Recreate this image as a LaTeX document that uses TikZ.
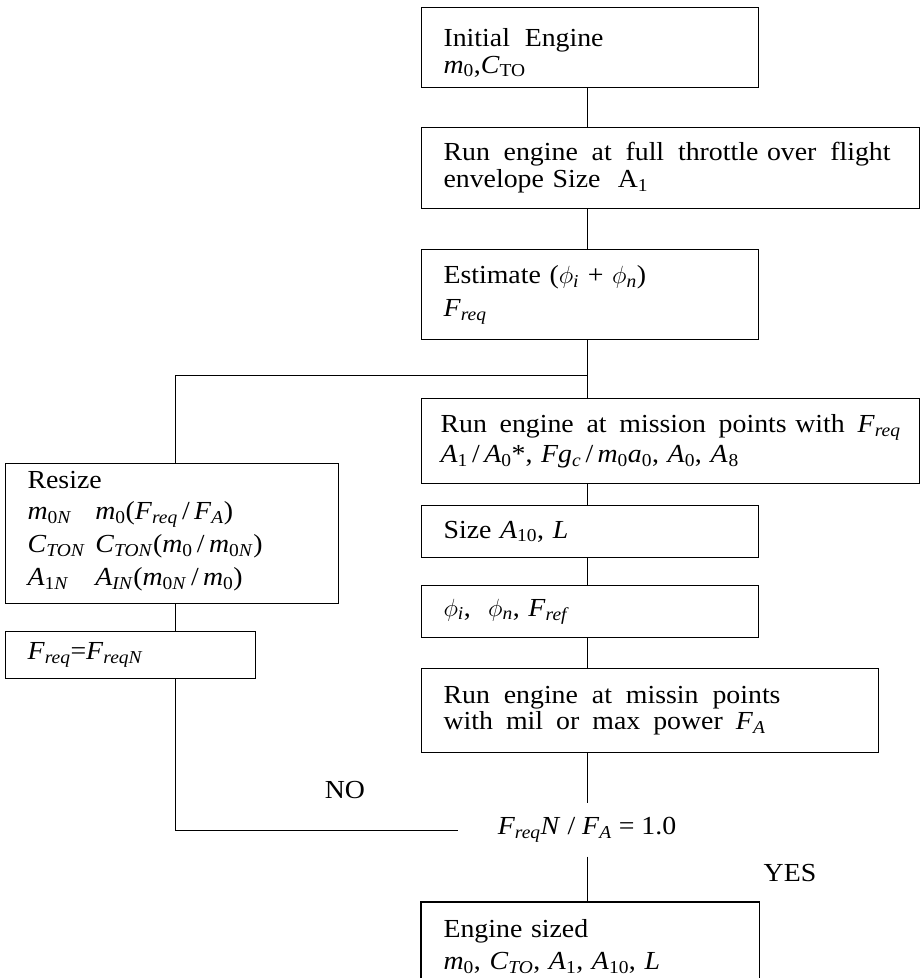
\documentclass[tikz,border=0pt]{standalone}
\usepackage{fontspec}
\setmainfont{Liberation Serif}[FakeStretch=1.07]
\newcommand{\iv}[1]{\textit{#1}}
\newcommand{\sbs}[1]{\textsubscript{#1}}
\newcommand{\gp}{\hspace{0pt plus 1fil}}
\begin{document}
\begin{tikzpicture}[x=1pt,y=-1pt,
  every node/.style={font=\fontsize{26}{27}\selectfont},
  box/.style={draw, line width=1.1pt, anchor=north west, align=left, inner xsep=22pt, inner ysep=0pt},
  conn/.style={line width=0.9pt}]
\useasboundingbox (0,0) rectangle (921,978);

\node[box, text width=293pt, minimum height=80pt] (b1) at (421,7)
  {\rule{0pt}{28pt}\hbox to 160pt{Initial \gp Engine}\\ \iv{m}\sbs{0},\iv{C}\sbs{TO}};
\node[box, text width=454pt, minimum height=81pt] (b2) at (421,127)
  {\hbox to 447pt{Run \gp engine \gp at \gp full \gp throttle over \gp flight}\\ envelope Size \ A\sbs{1}};
\node[box, text width=293pt, minimum height=90pt] (b3) at (421,249)
  {Estimate ($\phi$\sbs{\iv{i}} + $\phi$\sbs{\iv{n}})\\[6pt] \iv{F}\sbs{\iv{req}}};
\node[box, inner xsep=19pt, text width=460pt, minimum height=85pt] (b4) at (421,398)
  {\hbox to 460pt{Run \gp engine \gp at \gp mission \gp points with \gp \iv{F}\sbs{\iv{req}}}\\[3pt]
   \iv{A}\sbs{1}\,/\,\iv{A}\sbs{0}*, \iv{Fg}\sbs{\iv{c}}\,/\,\iv{m}\sbs{0}\iv{a}\sbs{0}, \iv{A}\sbs{0}, \iv{A}\kern1pt\sbs{8}};
\node[box, text width=293pt, minimum height=52pt] (b5) at (421,505)
  {Size \iv{A}\sbs{10}, \iv{L}};
\node[box, text width=293pt, minimum height=52pt] (b6) at (421,585)
  {$\phi$\sbs{\iv{i}}, \ $\phi$\sbs{\iv{n}}, \iv{F}\sbs{\iv{ref}}};
\node[box, text width=413pt, minimum height=84pt] (b7) at (421,668)
  {\hbox to 337pt{Run \gp engine \gp at \gp missin \gp points}\\[-1pt] \hbox to 322pt{with \gp mil \gp or \gp max \gp power \gp \iv{F}\sbs{\iv{A}}}};
\node[box, draw=none, text width=293pt, minimum height=88pt] (b8) at (421,902)
  {Engine sized\\[5pt] \iv{m}\sbs{0}, \iv{C}\sbs{\iv{TO}}, \iv{A}\sbs{1}, \iv{A}\sbs{10}, \iv{L}};
\draw[line width=1.1pt] (b8.south west) -- (b8.north west) -- (b8.north east) -- (b8.south east);

\node[box, text width=289pt, minimum height=140pt] (resize) at (5,463)
  {Resize\\[7pt]
   \renewcommand{\arraystretch}{1.22}%
   \begin{tabular}{@{}l@{\hspace{10pt}}l@{}}
   \iv{m}\sbs{0\iv{N}} & \iv{m}\sbs{0}(\iv{F}\sbs{\iv{req}}\,/\,\iv{F}\sbs{\iv{A}})\\
   \iv{C}\sbs{\iv{TON}} & \iv{C}\sbs{\iv{TON}}(\iv{m}\sbs{0}\,/\,\iv{m}\sbs{0\iv{N}})\\
   \iv{A}\sbs{1\iv{N}} & \iv{A}\sbs{\iv{IN}}(\iv{m}\sbs{0\iv{N}}\,/\,\iv{m}\sbs{0})
   \end{tabular}};
\node[box, text width=206pt, minimum height=47pt] (freq) at (5,631)
  {\iv{F}\sbs{\iv{req}}=\iv{F}\sbs{\iv{reqN}}};

\node[minimum width=258pt, minimum height=53pt, inner sep=0pt] (dec) at (587,830)
  {\iv{F}\sbs{\iv{req}}\iv{N} / \iv{F}\sbs{\iv{A}} = 1.0};
\node (no) at (345,790) {NO};
\node (yes) at (790,873) {YES};

\coordinate (j) at (587,375);
\coordinate (lx) at (175,375);
\draw[conn] (b1.south -| j) -- (b2.north -| j);
\draw[conn] (b2.south -| j) -- (b3.north -| j);
\draw[conn] (b3.south -| j) -- (b4.north -| j);
\draw[conn] (b4.south -| j) -- (b5.north -| j);
\draw[conn] (b5.south -| j) -- (b6.north -| j);
\draw[conn] (b6.south -| j) -- (b7.north -| j);
\draw[conn] (b7.south -| j) -- (dec.north);
\draw[conn] (dec.south) -- (b8.north -| j);
\draw[conn] (dec.west) -| (lx |- freq.south);
\draw[conn] (lx |- freq.north) -- (lx |- resize.south);
\draw[conn] (lx |- resize.north) -- (lx) -- (j);
\end{tikzpicture}
\end{document}
